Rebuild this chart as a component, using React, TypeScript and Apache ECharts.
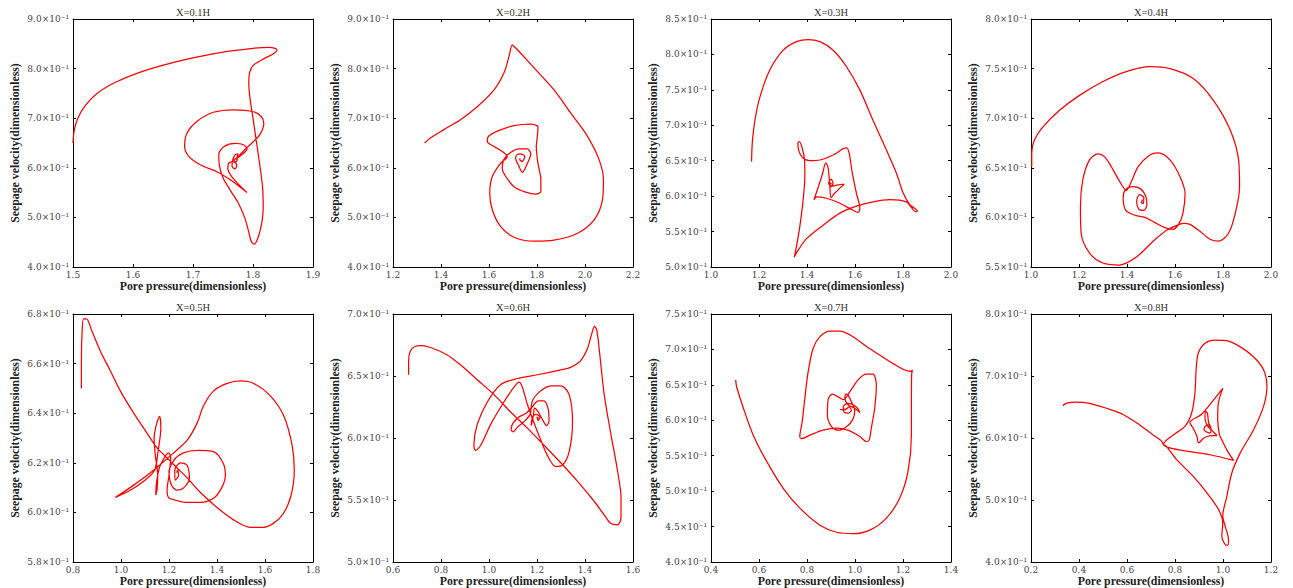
import React, { useEffect, useRef } from "react";
import * as echarts from "echarts";

// ---------- data ----------
const titles = ["X=0.1H", "X=0.2H", "X=0.3H", "X=0.4H", "X=0.5H", "X=0.6H", "X=0.7H", "X=0.8H"];

// [min, max, interval]
const xRanges: [number, number, number][] = [
  [1.5, 1.9, 0.1], [1.2, 2.2, 0.2], [1.0, 2.0, 0.2], [1.0, 2.0, 0.2],
  [0.8, 1.8, 0.2], [0.6, 1.6, 0.2], [0.4, 1.4, 0.2], [0.2, 1.2, 0.2],
];
const yRanges: [number, number, number][] = [
  [0.4, 0.9, 0.1], [0.4, 0.9, 0.1], [0.5, 0.85, 0.05], [0.55, 0.8, 0.05],
  [0.58, 0.68, 0.02], [0.5, 0.7, 0.05], [0.4, 0.75, 0.05], [0.4, 0.8, 0.1],
];

const xAxisName = "Pore pressure(dimensionless)";
const yAxisName = "Seepage velocity(dimensionless)";

const traj01: [number, number][] = [
  [1.500, 0.650], [1.502, 0.675], [1.508, 0.700], [1.520, 0.725], [1.540, 0.750], [1.570, 0.772],
  [1.610, 0.792], [1.660, 0.810], [1.710, 0.824], [1.760, 0.835], [1.800, 0.841], [1.828, 0.843],
  [1.840, 0.838], [1.834, 0.830], [1.815, 0.818], [1.800, 0.806], [1.794, 0.790], [1.793, 0.770],
  [1.795, 0.740], [1.800, 0.700], [1.806, 0.650], [1.812, 0.600], [1.816, 0.560], [1.817, 0.520],
  [1.814, 0.485], [1.808, 0.458], [1.802, 0.446], [1.797, 0.452], [1.792, 0.475], [1.786, 0.500],
  [1.775, 0.530], [1.762, 0.555], [1.750, 0.580], [1.744, 0.605], [1.743, 0.628], [1.752, 0.643],
  [1.770, 0.649], [1.785, 0.646], [1.790, 0.638], [1.782, 0.627], [1.772, 0.618], [1.785, 0.635],
  [1.800, 0.652], [1.812, 0.668], [1.818, 0.690], [1.814, 0.703], [1.801, 0.713], [1.768, 0.717],
  [1.734, 0.712], [1.707, 0.694], [1.690, 0.670], [1.686, 0.643], [1.693, 0.623], [1.712, 0.606],
  [1.740, 0.592], [1.762, 0.576], [1.779, 0.561], [1.790, 0.550], [1.779, 0.563], [1.766, 0.580],
  [1.758, 0.598], [1.760, 0.610], [1.768, 0.612], [1.773, 0.605], [1.770, 0.598], [1.765, 0.603],
  [1.766, 0.615], [1.770, 0.626], [1.775, 0.628], [1.773, 0.620], [1.768, 0.616], [1.771, 0.612],
  [1.774, 0.617], [1.771, 0.618],
];

const traj02: [number, number][] = [
  [1.332, 0.650], [1.356, 0.660], [1.412, 0.677], [1.481, 0.697], [1.551, 0.723], [1.621, 0.757],
  [1.662, 0.791], [1.683, 0.824], [1.697, 0.848], [1.704, 0.845], [1.732, 0.831], [1.802, 0.794],
  [1.871, 0.757], [1.941, 0.710], [2.011, 0.663], [2.059, 0.616], [2.077, 0.576], [2.073, 0.536],
  [2.038, 0.495], [1.969, 0.468], [1.871, 0.454], [1.788, 0.452], [1.704, 0.460], [1.648, 0.482],
  [1.614, 0.515], [1.603, 0.549], [1.614, 0.583], [1.648, 0.609], [1.676, 0.623], [1.655, 0.633],
  [1.621, 0.643], [1.593, 0.653], [1.597, 0.663], [1.635, 0.674], [1.704, 0.685], [1.774, 0.688],
  [1.804, 0.683], [1.802, 0.666], [1.797, 0.643], [1.804, 0.609], [1.816, 0.576], [1.816, 0.552],
  [1.795, 0.547], [1.753, 0.551], [1.704, 0.562], [1.669, 0.583], [1.655, 0.599], [1.662, 0.617],
  [1.690, 0.631], [1.725, 0.638], [1.760, 0.638], [1.774, 0.628], [1.760, 0.609], [1.739, 0.591],
  [1.722, 0.606], [1.711, 0.619], [1.715, 0.626], [1.732, 0.628], [1.749, 0.623], [1.739, 0.613],
  [1.728, 0.616], [1.729, 0.619],
];

const traj03: [number, number][] = [
  [1.169, 0.649], [1.172, 0.675], [1.183, 0.707], [1.204, 0.740], [1.245, 0.778], [1.301, 0.806],
  [1.356, 0.818], [1.405, 0.821], [1.454, 0.818], [1.509, 0.806], [1.564, 0.783], [1.620, 0.750],
  [1.675, 0.707], [1.731, 0.665], [1.773, 0.632], [1.800, 0.605], [1.828, 0.588], [1.852, 0.582],
  [1.860, 0.579], [1.852, 0.578], [1.835, 0.584], [1.814, 0.592], [1.745, 0.595], [1.675, 0.592],
  [1.606, 0.586], [1.537, 0.576], [1.467, 0.559], [1.398, 0.540], [1.360, 0.522], [1.347, 0.514],
  [1.356, 0.529], [1.370, 0.557], [1.384, 0.595], [1.391, 0.628], [1.390, 0.650], [1.380, 0.668],
  [1.368, 0.677], [1.362, 0.675], [1.365, 0.665], [1.380, 0.655], [1.410, 0.650], [1.454, 0.651],
  [1.509, 0.658], [1.551, 0.667], [1.565, 0.668], [1.576, 0.660], [1.589, 0.632], [1.606, 0.604],
  [1.620, 0.583], [1.613, 0.577], [1.592, 0.580], [1.537, 0.590], [1.481, 0.597], [1.440, 0.599],
  [1.429, 0.595], [1.447, 0.613], [1.465, 0.632], [1.478, 0.647], [1.488, 0.640], [1.495, 0.615],
  [1.500, 0.598], [1.515, 0.604], [1.555, 0.617], [1.530, 0.616], [1.505, 0.614], [1.490, 0.618],
  [1.500, 0.624], [1.508, 0.618], [1.498, 0.613], [1.495, 0.619], [1.502, 0.617],
];

const traj04: [number, number][] = [
  [1.003, 0.651], [1.003, 0.665], [1.014, 0.678], [1.049, 0.691], [1.119, 0.708], [1.202, 0.723],
  [1.300, 0.737], [1.397, 0.747], [1.495, 0.752], [1.579, 0.750], [1.676, 0.740], [1.760, 0.718],
  [1.830, 0.688], [1.865, 0.658], [1.869, 0.631], [1.851, 0.604], [1.823, 0.584], [1.781, 0.576],
  [1.746, 0.578], [1.704, 0.586], [1.662, 0.593], [1.635, 0.594], [1.607, 0.592], [1.565, 0.587],
  [1.509, 0.576], [1.439, 0.560], [1.370, 0.552], [1.300, 0.554], [1.244, 0.564], [1.209, 0.584],
  [1.206, 0.611], [1.216, 0.638], [1.244, 0.658], [1.279, 0.664], [1.307, 0.661], [1.335, 0.651],
  [1.370, 0.636], [1.397, 0.627], [1.418, 0.636], [1.446, 0.651], [1.495, 0.663], [1.530, 0.665],
  [1.579, 0.658], [1.621, 0.641], [1.642, 0.624], [1.633, 0.604], [1.615, 0.593], [1.590, 0.588],
  [1.555, 0.590], [1.515, 0.595], [1.475, 0.600], [1.435, 0.602], [1.395, 0.607], [1.384, 0.620],
  [1.394, 0.628], [1.425, 0.631], [1.455, 0.629], [1.477, 0.622], [1.483, 0.613], [1.470, 0.607],
  [1.450, 0.608], [1.440, 0.616], [1.452, 0.623], [1.470, 0.620], [1.468, 0.614], [1.460, 0.615],
  [1.465, 0.618],
];

const traj05: [number, number][] = [
  [0.835, 0.650], [0.835, 0.661], [0.838, 0.673], [0.844, 0.678], [0.856, 0.678], [0.879, 0.673],
  [0.914, 0.665], [0.956, 0.657], [0.997, 0.649], [1.053, 0.640], [1.108, 0.632], [1.150, 0.626],
  [1.192, 0.622], [1.233, 0.618], [1.275, 0.614], [1.331, 0.608], [1.400, 0.602], [1.469, 0.597],
  [1.539, 0.594], [1.594, 0.594], [1.664, 0.598], [1.706, 0.606], [1.722, 0.617], [1.713, 0.627],
  [1.678, 0.639], [1.622, 0.647], [1.553, 0.652], [1.497, 0.653], [1.442, 0.652], [1.386, 0.649],
  [1.344, 0.643], [1.317, 0.636], [1.275, 0.629], [1.219, 0.624], [1.136, 0.617], [1.053, 0.611],
  [0.976, 0.606], [1.040, 0.609], [1.100, 0.613], [1.140, 0.617], [1.155, 0.625], [1.166, 0.634],
  [1.161, 0.6387], [1.149, 0.636], [1.138, 0.630], [1.143, 0.623], [1.153, 0.615], [1.150, 0.609],
  [1.145, 0.607], [1.148, 0.612], [1.160, 0.618], [1.180, 0.622], [1.198, 0.624], [1.207, 0.622],
  [1.200, 0.615], [1.192, 0.609], [1.198, 0.606], [1.225, 0.605], [1.275, 0.604], [1.330, 0.604],
  [1.390, 0.606], [1.425, 0.611], [1.435, 0.615], [1.425, 0.620], [1.385, 0.6245], [1.320, 0.625],
  [1.260, 0.624], [1.220, 0.621], [1.200, 0.616], [1.210, 0.611], [1.232, 0.609], [1.262, 0.610],
  [1.285, 0.614], [1.275, 0.619], [1.248, 0.620], [1.224, 0.617], [1.226, 0.613], [1.240, 0.615],
  [1.236, 0.617], [1.232, 0.616],
];

const traj06: [number, number][] = [
  [0.665, 0.651], [0.665, 0.662], [0.672, 0.670], [0.693, 0.674], [0.721, 0.6745], [0.770, 0.672],
  [0.826, 0.667], [0.881, 0.659], [0.951, 0.647], [1.021, 0.635], [1.090, 0.621], [1.160, 0.608],
  [1.230, 0.594], [1.299, 0.580], [1.369, 0.565], [1.438, 0.549], [1.480, 0.538], [1.508, 0.531],
  [1.536, 0.530], [1.550, 0.536], [1.550, 0.552], [1.536, 0.573], [1.508, 0.603], [1.480, 0.635],
  [1.459, 0.672], [1.449, 0.687], [1.440, 0.690], [1.428, 0.684], [1.410, 0.672], [1.380, 0.662],
  [1.340, 0.657], [1.299, 0.655], [1.202, 0.651], [1.118, 0.648], [1.048, 0.643], [0.993, 0.629],
  [0.951, 0.611], [0.937, 0.594], [0.944, 0.590], [0.965, 0.594], [1.007, 0.611], [1.062, 0.629],
  [1.104, 0.641], [1.125, 0.645], [1.139, 0.641], [1.160, 0.627], [1.202, 0.605], [1.243, 0.586],
  [1.278, 0.577], [1.306, 0.578], [1.334, 0.589], [1.348, 0.613], [1.334, 0.635], [1.299, 0.642],
  [1.257, 0.642], [1.209, 0.637], [1.181, 0.630], [1.171, 0.619], [1.150, 0.614], [1.120, 0.609],
  [1.100, 0.605], [1.092, 0.607], [1.100, 0.612], [1.125, 0.617], [1.155, 0.620], [1.180, 0.625],
  [1.205, 0.630], [1.228, 0.630], [1.247, 0.623], [1.250, 0.614], [1.240, 0.610], [1.225, 0.614],
  [1.205, 0.621], [1.190, 0.624], [1.185, 0.618], [1.176, 0.610], [1.180, 0.616], [1.195, 0.619],
  [1.212, 0.617], [1.205, 0.614], [1.200, 0.617], [1.206, 0.616],
];

const traj07: [number, number][] = [
  [0.503, 0.657], [0.504, 0.653], [0.507, 0.647], [0.535, 0.617], [0.576, 0.579], [0.632, 0.542],
  [0.701, 0.504], [0.770, 0.476], [0.854, 0.452], [0.923, 0.442], [0.992, 0.440], [1.062, 0.445],
  [1.131, 0.462], [1.186, 0.490], [1.221, 0.528], [1.235, 0.579], [1.235, 0.626], [1.236, 0.664],
  [1.239, 0.671], [1.232, 0.669], [1.200, 0.672], [1.159, 0.680], [1.103, 0.692], [1.048, 0.704],
  [0.992, 0.718], [0.937, 0.726], [0.895, 0.726], [0.854, 0.718], [0.826, 0.702], [0.805, 0.669],
  [0.791, 0.631], [0.780, 0.598], [0.770, 0.577], [0.777, 0.574], [0.812, 0.579], [0.867, 0.586],
  [0.923, 0.589], [0.978, 0.585], [1.020, 0.577], [1.048, 0.570], [1.059, 0.572], [1.068, 0.589],
  [1.082, 0.617], [1.089, 0.650], [1.075, 0.665], [1.048, 0.665], [1.013, 0.657], [0.978, 0.640],
  [0.951, 0.629], [0.930, 0.633], [0.906, 0.637], [0.888, 0.629], [0.885, 0.607], [0.902, 0.591],
  [0.930, 0.586], [0.965, 0.591], [0.992, 0.602], [0.999, 0.614], [0.985, 0.626], [0.971, 0.636],
  [0.962, 0.637], [0.958, 0.631], [0.971, 0.622], [0.999, 0.617], [1.020, 0.611], [1.013, 0.616],
  [0.992, 0.622], [0.971, 0.624], [0.951, 0.619], [0.954, 0.612], [0.971, 0.610], [0.985, 0.614],
  [0.975, 0.619], [0.964, 0.616], [0.937, 0.615], [0.964, 0.615],
];

const traj08: [number, number][] = [
  [0.333, 0.652], [0.346, 0.656], [0.388, 0.658], [0.444, 0.656], [0.514, 0.648], [0.584, 0.638],
  [0.653, 0.621], [0.709, 0.605], [0.744, 0.595], [0.751, 0.590], [0.765, 0.586], [0.807, 0.565],
  [0.876, 0.538], [0.932, 0.512], [0.981, 0.485], [0.999, 0.463], [0.995, 0.442], [1.009, 0.428],
  [1.019, 0.427], [1.023, 0.436], [1.009, 0.458], [0.999, 0.474], [1.016, 0.506], [1.037, 0.544],
  [1.072, 0.576], [1.127, 0.613], [1.169, 0.651], [1.183, 0.683], [1.169, 0.710], [1.127, 0.731],
  [1.072, 0.747], [1.016, 0.757], [0.967, 0.758], [0.925, 0.753], [0.897, 0.737], [0.888, 0.710],
  [0.883, 0.672], [0.869, 0.640], [0.842, 0.619], [0.793, 0.605], [0.760, 0.595], [0.752, 0.590],
  [0.779, 0.584], [0.862, 0.578], [0.946, 0.573], [1.044, 0.564], [1.020, 0.578], [0.995, 0.597],
  [0.985, 0.606], [0.978, 0.630], [0.980, 0.655], [0.999, 0.680], [0.960, 0.661], [0.910, 0.638],
  [0.862, 0.625], [0.878, 0.614], [0.892, 0.602], [0.898, 0.592], [0.920, 0.600], [0.950, 0.604],
  [0.975, 0.604], [0.955, 0.612], [0.935, 0.620], [0.925, 0.632], [0.928, 0.643], [0.935, 0.640],
  [0.940, 0.625], [0.950, 0.615], [0.945, 0.608], [0.930, 0.610], [0.920, 0.614], [0.930, 0.620],
  [0.945, 0.622], [0.940, 0.617], [0.937, 0.619],
];

const trajectories = [traj01, traj02, traj03, traj04, traj05, traj06, traj07, traj08];

// ---------- layout ----------
const GRID_LEFTS = [73, 393, 711, 1031];
const GRID_TOPS = [19, 314];
const GRID_W = 240;
const GRID_H = 248;

const SERIF = "Liberation Serif, Times New Roman, serif";
const TICK_FONT = "DejaVu Serif, serif";

function buildOption() {
  const grid: any[] = [];
  const xAxis: any[] = [];
  const yAxis: any[] = [];
  const series: any[] = [];
  const title: any[] = [];

  trajectories.forEach((data, i) => {
    const col = i % 4;
    const row = Math.floor(i / 4);
    const left = GRID_LEFTS[col];
    const top = GRID_TOPS[row];
    grid.push({
      left,
      top,
      width: GRID_W,
      height: GRID_H,
      containLabel: false,
      outerBoundsMode: "none",
    });
    title.push({
      text: titles[i],
      left: left + GRID_W / 2,
      top: top - 12,
      textAlign: "center",
      padding: 0,
      textStyle: { fontFamily: SERIF, fontSize: 10.5, fontWeight: "normal", color: "#333" },
    });
    const [xmin, xmax, xint] = xRanges[i];
    const [ymin, ymax, yint] = yRanges[i];
    const axisLine = { show: true, onZero: false, lineStyle: { color: "#000", width: 1 } };
    const axisTick = { show: true, inside: true, length: 3, lineStyle: { color: "#000", width: 1 } };
    const gi = i;
    xAxis.push({
      type: "value",
      gridIndex: gi,
      position: "bottom",
      min: xmin,
      max: xmax,
      interval: xint,
      axisLine,
      axisTick,
      splitLine: { show: false },
      axisLabel: {
        margin: 3,
        fontFamily: TICK_FONT,
        fontSize: 9,
        color: "#444",
        formatter: (v: number) => v.toFixed(1),
      },
      name: xAxisName,
      nameLocation: "middle",
      nameGap: 9,
      nameTextStyle: { fontFamily: SERIF, fontSize: 11.8, fontWeight: "bold", color: "#222", verticalAlign: "top" },
    });
    xAxis.push({
      type: "value",
      gridIndex: gi,
      position: "top",
      min: xmin,
      max: xmax,
      interval: xint,
      axisLine,
      axisTick,
      splitLine: { show: false },
      axisLabel: { show: false },
    });
    yAxis.push({
      type: "value",
      gridIndex: gi,
      position: "left",
      min: ymin,
      max: ymax,
      interval: yint,
      axisLine,
      axisTick,
      splitLine: { show: false },
      axisLabel: {
        margin: 4,
        fontFamily: TICK_FONT,
        fontSize: 9,
        color: "#444",
        formatter: (v: number) => (v * 10).toFixed(1) + "×10⁻¹",
      },
      name: yAxisName,
      nameLocation: "middle",
      nameGap: 52,
      nameTextStyle: { fontFamily: SERIF, fontSize: 11.8, fontWeight: "bold", color: "#222" },
    });
    yAxis.push({
      type: "value",
      gridIndex: gi,
      position: "right",
      min: ymin,
      max: ymax,
      interval: yint,
      axisLine,
      axisTick,
      splitLine: { show: false },
      axisLabel: { show: false },
    });
    series.push({
      type: "line",
      xAxisIndex: gi * 2,
      yAxisIndex: gi * 2,
      data,
      showSymbol: false,
      symbol: "none",
      smooth: 0.3,
      lineStyle: { color: "#ff0000", width: 1.25 },
      silent: true,
    });
  });

  return {
    animation: false,
    backgroundColor: "#ffffff",
    title,
    grid,
    xAxis,
    yAxis,
    series,
  };
}

export default function App() {
  const ref = useRef<HTMLDivElement>(null);
  useEffect(() => {
    if (!ref.current) return;
    const chart = echarts.init(ref.current, undefined, { renderer: "svg" });
    chart.setOption(buildOption() as any);
    return () => chart.dispose();
  }, []);
  return (
    <div
      ref={ref}
      style={{ position: "absolute", left: 0, top: 0, width: 1293, height: 588, background: "#fff" }}
    />
  );
}
